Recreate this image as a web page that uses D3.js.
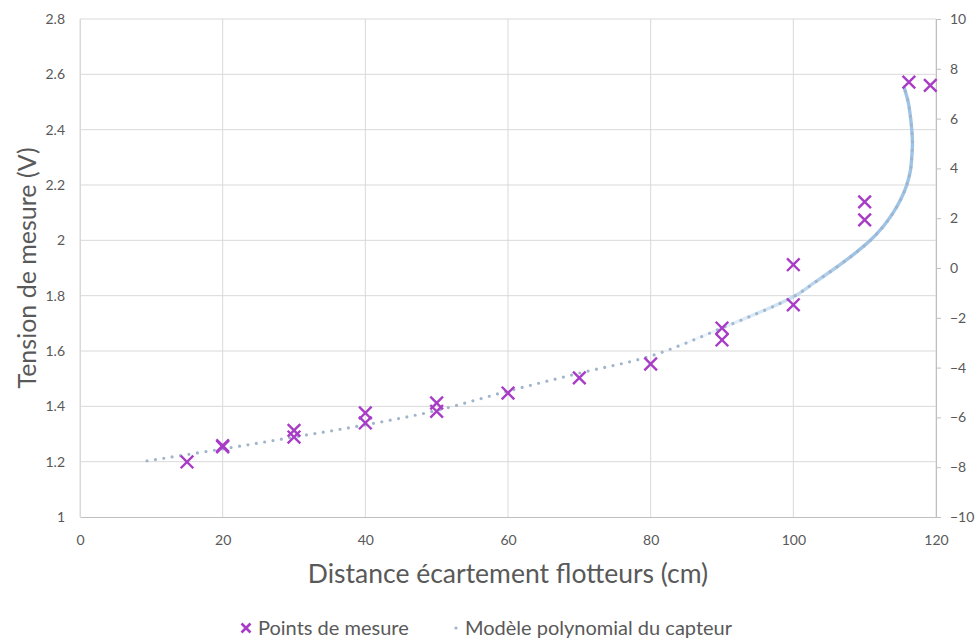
<!DOCTYPE html>
<html lang="fr">
<head>
    <meta charset="UTF-8">
    <title>Tension de mesure</title>
    <style>
        body { margin: 0; background: #fff; }
        text { font-family: Lato, "Open Sans", sans-serif; fill: #595959; }
    </style>
</head>
<body>
    <div id="graphArea"></div>
    <script src="https://d3js.org/d3.v7.min.js"></script>
    <script>
        // measured points (distance in cm, voltage in V)
        const measDistance = [15, 20, 20, 30, 30, 40, 40, 50, 50, 60, 70, 80, 90, 90, 100, 100, 110, 110, 116.2, 119.2];
        const measVoltage = [1.199, 1.254, 1.258, 1.313, 1.289, 1.376, 1.340, 1.412, 1.382, 1.448, 1.503, 1.553, 1.683, 1.640, 1.912, 1.767, 2.139, 2.074, 2.572, 2.560];

        // polynomial model
        const modelDistance = [9.4, 20, 30, 40, 50, 60, 70, 80, 90, 100, 103, 105.9, 108.5, 110.8, 112.6, 114.0, 115.1, 115.9, 116.4, 116.6, 116.7, 116.6, 116.4, 116.1, 115.5];
        const modelVoltage = [1.203, 1.246, 1.289, 1.333, 1.385, 1.455, 1.520, 1.582, 1.683, 1.796, 1.848, 1.9, 1.95, 2.0, 2.05, 2.1, 2.15, 2.2, 2.25, 2.3, 2.35, 2.4, 2.45, 2.5, 2.555];

        const xTicks = [0, 20, 40, 60, 80, 100, 120];
        const yTicks = [1, 1.2, 1.4, 1.6, 1.8, 2, 2.2, 2.4, 2.6, 2.8];
        const yTickLabels = ["1", "1.2", "1.4", "1.6", "1.8", "2", "2.2", "2.4", "2.6", "2.8"];
        const y2Ticks = [-10, -8, -6, -4, -2, 0, 2, 4, 6, 8, 10];

        const seriesNames = ["Points de mesure", "Modèle polynomial du capteur"];

        const W = 977, H = 641;
        const plot = { left: 80, right: 936, top: 19, bottom: 517 };
        const markColor = "#a83cc6";
        const dotColor = "#a0b5cb";

        const svg = d3.select("#graphArea")
            .append("svg")
            .attr("width", W)
            .attr("height", H);

        svg.append("rect").attr("width", W).attr("height", H).attr("fill", "#fff");

        const x = d3.scaleLinear().domain([0, 120]).range([plot.left, plot.right]);
        const y = d3.scaleLinear().domain([1, 2.8]).range([plot.bottom, plot.top]);
        const y2 = d3.scaleLinear().domain([-10, 10]).range([plot.bottom, plot.top]);

        // grid
        svg.append("g")
            .selectAll("line")
            .data(yTicks.slice(1))
            .join("line")
            .attr("x1", plot.left).attr("x2", plot.right)
            .attr("y1", d => y(d)).attr("y2", d => y(d))
            .attr("stroke", "#d9d9d9");

        svg.append("g")
            .selectAll("line")
            .data(xTicks)
            .join("line")
            .attr("x1", d => x(d)).attr("x2", d => x(d))
            .attr("y1", plot.top).attr("y2", plot.bottom)
            .attr("stroke", "#d9d9d9");

        // bottom axis
        const xAxis = svg.append("g")
            .attr("transform", `translate(0, ${plot.bottom})`)
            .call(d3.axisBottom(x).tickValues(xTicks).tickSize(0).tickPadding(18));
        xAxis.select(".domain").attr("stroke", "#bfbfbf");
        xAxis.selectAll("text").style("font-size", "14px").attr("fill", "#595959");

        // left axis
        const yAxis = svg.append("g")
            .attr("transform", `translate(${plot.left}, 0)`)
            .call(d3.axisLeft(y).tickValues(yTicks).tickFormat((d, i) => yTickLabels[i]).tickSize(0).tickPadding(15));
        yAxis.select(".domain").attr("stroke", "#d9d9d9");
        yAxis.selectAll("text").style("font-size", "14px").attr("fill", "#595959");

        // right axis
        const y2Axis = svg.append("g")
            .attr("transform", `translate(${plot.right}, 0)`)
            .call(d3.axisRight(y2).tickValues(y2Ticks).tickSize(5).tickSizeOuter(0).tickPadding(9));
        y2Axis.select(".domain").attr("stroke", "#bfbfbf");
        y2Axis.selectAll(".tick line").attr("stroke", "#bfbfbf");
        y2Axis.selectAll("text").style("font-size", "14px").attr("fill", "#595959");

        // model curve
        const model = modelDistance.map((d, i) => [d, modelVoltage[i]]);
        const line = d3.line()
            .x(d => x(d[0]))
            .y(d => y(d[1]))
            .curve(d3.curveCatmullRom.alpha(0.5));

        const grad = svg.append("defs").append("linearGradient")
            .attr("id", "fade")
            .attr("gradientUnits", "userSpaceOnUse")
            .attr("x1", 0).attr("x2", 0)
            .attr("y1", y(1.6)).attr("y2", y(1.95));
        grad.append("stop").attr("offset", 0).attr("stop-color", "#9dc3e6").attr("stop-opacity", 0);
        grad.append("stop").attr("offset", 1).attr("stop-color", "#9dc3e6").attr("stop-opacity", 1);

        svg.append("path")
            .datum(model)
            .attr("fill", "none")
            .attr("stroke", "url(#fade)")
            .attr("stroke-width", 3.4)
            .attr("d", line);

        svg.append("path")
            .datum(model)
            .attr("fill", "none")
            .attr("stroke", dotColor)
            .attr("stroke-width", 3.2)
            .attr("stroke-linecap", "round")
            .attr("stroke-dasharray", "0 8.5")
            .attr("d", line);

        // measurement markers
        const cross = s => `M${-s},${-s}L${s},${s}M${-s},${s}L${s},${-s}`;
        svg.append("g")
            .selectAll("path")
            .data(measDistance.map((d, i) => [d, measVoltage[i]]))
            .join("path")
            .attr("transform", d => `translate(${x(d[0])}, ${y(d[1])})`)
            .attr("d", cross(6.3))
            .attr("fill", "none")
            .attr("stroke", markColor)
            .attr("stroke-width", 2.4);

        // axis titles
        svg.append("text")
            .attr("transform", `translate(${(plot.left + plot.right) / 2}, 583)`)
            .style("text-anchor", "middle")
            .style("font-size", "26.5px")
            .text("Distance écartement flotteurs (cm)");

        svg.append("text")
            .attr("transform", `translate(36, ${(plot.top + plot.bottom) / 2}) rotate(-90)`)
            .style("text-anchor", "middle")
            .style("font-size", "25px")
            .text("Tension de mesure (V)");

        // legend
        const legend = svg.append("g").attr("transform", "translate(0, 628)");
        legend.append("path")
            .attr("transform", "translate(246, 0)")
            .attr("d", cross(4.5))
            .attr("stroke", markColor)
            .attr("stroke-width", 2.6);
        legend.append("text")
            .attr("x", 258).attr("y", 7)
            .style("font-size", "20px")
            .text(seriesNames[0]);
        legend.append("circle")
            .attr("cx", 456).attr("cy", 0).attr("r", 1.6)
            .attr("fill", dotColor);
        legend.append("text")
            .attr("x", 465).attr("y", 7)
            .style("font-size", "20px")
            .text(seriesNames[1]);
    </script>
</body>
</html>
